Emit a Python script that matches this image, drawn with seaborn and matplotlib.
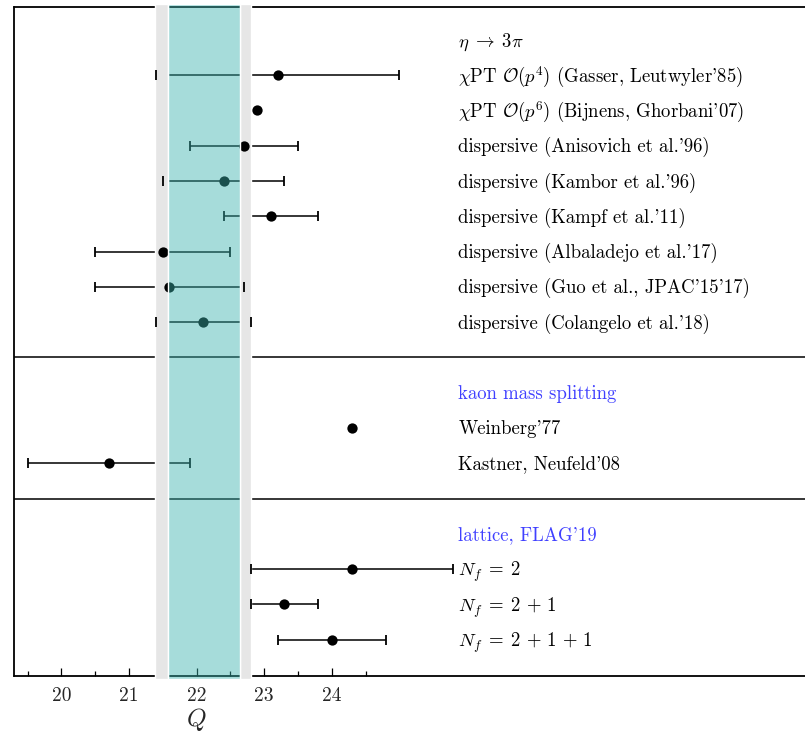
import matplotlib
matplotlib.use("Agg")
import matplotlib.pyplot as plt
import seaborn as sns
import pandas as pd

# ---------------- data ----------------
labels = [
    r"$\chi$PT $\mathcal{O}(p^4)$ (Gasser, Leutwyler'85)",
    r"$\chi$PT $\mathcal{O}(p^6)$ (Bijnens, Ghorbani'07)",
    "dispersive (Anisovich et al.'96)",
    "dispersive (Kambor et al.'96)",
    "dispersive (Kampf et al.'11)",
    "dispersive (Albaladejo et al.'17)",
    "dispersive (Guo et al., JPAC'15'17)",
    "dispersive (Colangelo et al.'18)",
    "Weinberg'77",
    "Kastner, Neufeld'08",
    r"$N_f \;=\; 2$",
    r"$N_f \;=\; 2 \,+\, 1$",
    r"$N_f \;=\; 2 \,+\, 1 \,+\, 1$",
]
centers = [23.2, 22.9, 22.7, 22.4, 23.1, 21.5, 21.6, 22.1, 24.3, 20.7, 24.3, 23.3, 24.0]
lows    = [21.4, None, 21.9, 21.5, 22.4, 20.5, 20.5, 21.4, None, 19.5, 22.8, 22.8, 23.2]
highs   = [25.0, None, 23.5, 23.3, 23.8, 22.5, 22.7, 22.8, None, 21.9, 25.8, 23.8, 24.8]
group_sizes = [8, 2, 3]
group_titles = [r"$\eta \;\to\; 3\pi$", "kaon mass splitting", "lattice, FLAG'19"]
band_outer = (21.39, 22.81)
band_inner = (21.58, 22.64)
major_ticks = [20, 21, 22, 23, 24]
tick_labels = ["20", "21", "22", "23", "24"]
minor_ticks = [19.5, 20.5, 21.5, 22.5, 23.5, 24.5]

# ---------------- style ----------------
sns.set_theme(style="white")
plt.rcParams["font.family"] = ["cmr10", "DejaVu Serif"]
plt.rcParams["mathtext.fontset"] = "cm"
plt.rcParams["axes.formatter.use_mathtext"] = True

W, H = 805, 734
fig = plt.figure(figsize=(W / 100, H / 100), dpi=100)
ax = fig.add_axes([14 / W, 1 - 676 / H, (W - 14) / W, (676 - 7) / H])

# row layout
rows = []
title_rows = []
sep_rows = []
r = 0
for gi, n in enumerate(group_sizes):
    if gi > 0:
        sep_rows.append(r)
        r += 1
    title_rows.append(r)
    r += 1
    for _ in range(n):
        rows.append(r)
        r += 1

df = pd.DataFrame({"label": labels, "Q": centers, "lo": lows, "hi": highs, "row": rows})
dfe = df.dropna()

ax.set_xlim(19.3, 31.0)
ax.set_ylim(r + 0.03, -0.93)

lw = 1.1
# error bar lines (under the grey band)
ax.hlines(dfe["row"], dfe["lo"], dfe["hi"], color="black", lw=lw, zorder=1)
# separators and top/bottom frame lines
for s in sep_rows:
    ax.axhline(s, color="black", lw=1.1, zorder=1)
ax.plot([0, 1], [1, 1], transform=ax.transAxes, color="black", lw=1.3, zorder=1, clip_on=False)
ax.plot([0, 1], [0, 0], transform=ax.transAxes, color="black", lw=1.3, zorder=1, clip_on=False)

# grey band (two side strips), white edges
for x0, x1 in [(band_outer[0], band_inner[0]), (band_inner[1], band_outer[1])]:
    ax.axvspan(x0, x1, ymin=-0.004, ymax=1.004, facecolor="#e6e6e6", edgecolor="white",
               lw=1.0, zorder=2, clip_on=False)

# caps
for col in ["lo", "hi"]:
    ax.plot(dfe[col], dfe["row"], ls="none", marker="|", ms=7, mew=1.3, color="black", zorder=3)
# points
sns.scatterplot(data=df, x="Q", y="row", color="black", s=55, edgecolor="black",
                linewidth=0, zorder=3, ax=ax, legend=False)

# teal band on top, semi-transparent
ax.axvspan(band_inner[0], band_inner[1], ymin=-0.004, ymax=1.004,
           facecolor=(58 / 255, 178 / 255, 173 / 255, 0.45), edgecolor="white",
           lw=1.0, zorder=4, clip_on=False)

# texts
xt = 25.87
fs = 13.5
for i, (t, tr) in enumerate(zip(group_titles, title_rows)):
    ax.text(xt, tr - 0.03, t, fontsize=fs, va="center_baseline", ha="left",
            color="black" if i == 0 else "#4040ff", zorder=5)
for lab, rw in zip(labels, rows):
    ax.text(xt, rw - 0.03, lab, fontsize=fs, va="center_baseline", ha="left", color="black", zorder=5)

# axes styling
for sp in ["top", "right", "bottom"]:
    ax.spines[sp].set_visible(False)
ax.spines["left"].set_color("black")
ax.spines["left"].set_linewidth(1.3)
ax.set_yticks([])
ax.set_xticks(major_ticks)
ax.set_xticklabels(tick_labels)
ax.set_xticks(minor_ticks, minor=True)
ax.tick_params(axis="x", which="major", direction="in", length=6, width=0.9,
               color="black", labelsize=14, pad=8, bottom=True)
ax.tick_params(axis="x", which="minor", direction="in", length=3.6, width=0.9,
               color="black", bottom=True)
ax.set_xlabel("")
ax.set_ylabel("")
ax.text(22.0, -0.045, r"$Q$", transform=ax.get_xaxis_transform(), fontsize=18,
        ha="center", va="top")

fig.savefig("out.png", dpi=100)
